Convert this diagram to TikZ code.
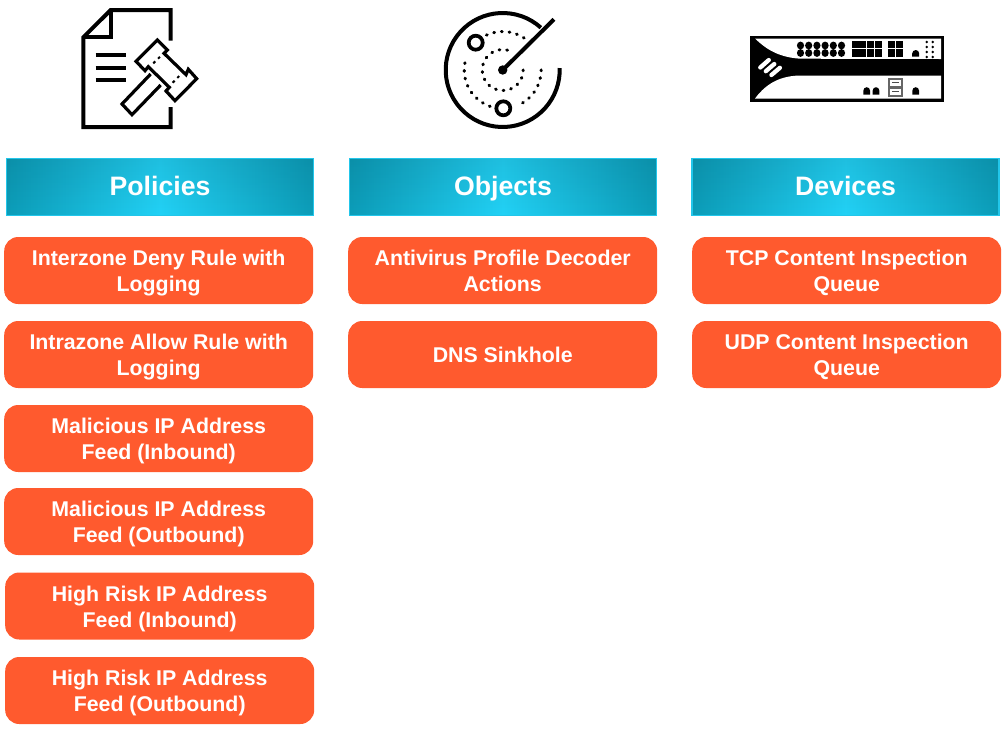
\documentclass[tikz,border=0pt]{standalone}
\usepackage{fontspec}
\setmainfont{Liberation Sans}
\usetikzlibrary{shadings,fadings}
\definecolor{ruleorange}{HTML}{FF5A2E}
\definecolor{headmid}{HTML}{22D2F6}
\definecolor{headedge}{HTML}{0C9DB9}
\definecolor{headline}{HTML}{22C6EA}
\newcommand{\rs}{\rule[-5.85pt]{0pt}{24pt}}
\newcommand{\hs}{\rule[-7.2pt]{0pt}{27pt}}
\tikzset{
  rulebox/.style={fill=ruleorange,draw=none,rounded corners=10.5pt,minimum width=231.75pt,minimum height=50.25pt,inner sep=0pt,
    text=white,font=\fontsize{16}{19.5}\selectfont\bfseries,align=center},
  headbox/.style={draw=headline,line width=1.2pt,left color=headedge,right color=headedge,middle color=headmid,
    minimum width=230.5pt,minimum height=43pt,inner sep=0pt,text=white,font=\fontsize{20}{24}\selectfont\bfseries,
    path picture={\fill[black,opacity=.09,path fading=south] (path picture bounding box.south west) rectangle (path picture bounding box.north east);}},
  ink/.style={draw=black,line width=3pt,line cap=butt,line join=miter},
  dots/.style={draw=black,line width=2.3pt,line cap=round,dash pattern=on 0.6pt off 5.2pt}
}
\begin{document}
\begin{tikzpicture}[x=.75pt,y=-.75pt]
\useasboundingbox (0,0) rectangle (1005,729);
% headers
\node[headbox] (hp) at (160,187) {\hs Policies};
\node[headbox] (ho) at (503,187) {\hs Objects};
\node[headbox] (hd) at (845.5,187) {\hs Devices};
% rules
\node[rulebox] (p1) at (158.7,270.5) {\rs Interzone Deny Rule with\\\strut Logging};
\node[rulebox] (p2) at (158.7,354.5) {\rs Intrazone Allow Rule with\\\strut Logging};
\node[rulebox] (p3) at (158.7,438.5) {\rs Malicious IP Address\\\strut Feed (Inbound)};
\node[rulebox] (p4) at (158.7,521.5) {\rs Malicious IP Address\\\strut Feed (Outbound)};
\node[rulebox] (p5) at (159.7,606) {\rs High Risk IP Address\\\strut Feed (Inbound)};
\node[rulebox] (p6) at (159.7,690.5) {\rs High Risk IP Address\\\strut Feed (Outbound)};
\node[rulebox] (o1) at (502.7,270.5) {\rs Antivirus Profile Decoder\\\strut Actions};
\node[rulebox] (o2) at (502.7,354.5) {\rs DNS Sinkhole};
\node[rulebox] (d1) at (846.7,270.5) {\rs TCP Content Inspection\\\strut Queue};
\node[rulebox] (d2) at (846.7,354.5) {\rs UDP Content Inspection\\\strut Queue};
% policy icon
\draw[ink] (170.7,40.7) -- (170.7,10) -- (110.7,10) -- (83.3,37.3) -- (83.3,127) -- (170.7,127) -- (170.7,107);
\draw[ink] (110.7,10) -- (110.7,37.3) -- (83.3,37.3);
\foreach \yy in {55,67.7,80} \draw[ink] (95.7,\yy) -- (126,\yy);
\draw[ink,line width=2.4pt] (157.3,40) -- (167.3,50) -- (164,53.3) -- (186,74.7) -- (188.3,69.3) -- (196.7,78.7) -- (175,100.7) -- (166,91) -- (169.3,87.3) -- (148.3,66.7) -- (145,70.7) -- (136,61.3) -- cycle;
\draw[ink,line width=2.4pt] (150.7,74) -- (122,104) -- (132,114.7) -- (160.7,85);
\draw[draw=black,line width=1.5pt,dash pattern=on 2pt off 3pt] (153.3,63.3) -- (160,56.7);
\draw[draw=black,line width=1.5pt,dash pattern=on 2pt off 3pt] (172.7,82.7) -- (179.3,76);
% radar icon
\coordinate (rc) at (502.7,70);
\draw[ink] ([shift={(-48:57)}]rc) arc[start angle=-48,end angle=-362,radius=57];
\draw[ink] (rc) -- (554,19.3);
\fill (rc) circle[radius=4.7];
\draw[ink,line width=2.8pt] (475.7,42.7) circle[radius=7];
\draw[ink,line width=2.8pt] (503.3,108.3) circle[radius=7];
\draw[dots] ([shift={(0:38.5)}]rc) arc[start angle=0,end angle=68,radius=38.5];
\draw[dots] ([shift={(109:38.5)}]rc) arc[start angle=109,end angle=200,radius=38.5];
\draw[dots] ([shift={(-115:38.5)}]rc) arc[start angle=-115,end angle=-55,radius=38.5];
\draw[dots] ([shift={(0:20.5)}]rc) arc[start angle=0,end angle=300,radius=20.5];
% device icon
\fill[black] (750,35.5) rectangle (943.5,101.5);
\fill[white] (755,38.5) -- (941,38.5) -- (941,59) -- (800,58.7) .. controls (775,57) and (763,46) .. cycle;
\fill[white] (941,75.5) -- (941,98.5) -- (755,98.5) .. controls (763,88) and (775,76) .. (800,75.5) -- cycle;
\foreach \i in {0,...,5} \foreach \yy in {45.5,53} {
  \fill[black] (800.5+\i*8.2,\yy) ellipse[x radius=3.6,y radius=3.9];
}
\foreach \i in {0,...,3} \foreach \yy in {41,49.3} \fill[black] (851.7+\i*7.6,\yy) rectangle ++(7,7.3);
\foreach \i in {0,1} \foreach \yy in {41,49.3} \fill[black] (888.3+\i*8,\yy) rectangle ++(7,7.3);
\fill[black] (912.2,56.7) -- (912.2,53.5) arc[start angle=180,end angle=360,radius=3.5] -- (919.2,56.7) -- cycle;
\foreach \xx in {926.7,932.7} \foreach \yy in {42,47,52,57} \fill[black] (\xx,\yy) circle[radius=1.3];
\foreach \xx in {866.7,876,915.7} \fill[black] (\xx-3.3,94.5) -- (\xx-3.3,90.5) arc[start angle=180,end angle=360,radius=3.3] -- (\xx+3.3,94.5) -- cycle;
\fill[black!60] (888.3,78.3) rectangle (902.7,96.7);
\fill[white] (890,80) rectangle (901,86);
\fill[white] (890,89) rectangle (901,95);
\fill[black!70] (892,90.5) rectangle (899,92);
\fill[black!70] (892,81.5) rectangle (899,83);
\draw[white,line width=3.2pt,line cap=round] (760.3,67.5) -- (768.8,60);
\draw[white,line width=3.2pt,line cap=round] (765.8,71.2) -- (774.3,64);
\draw[white,line width=3.2pt,line cap=round] (771.4,75) -- (779.9,67.8);
\end{tikzpicture}
\end{document}
